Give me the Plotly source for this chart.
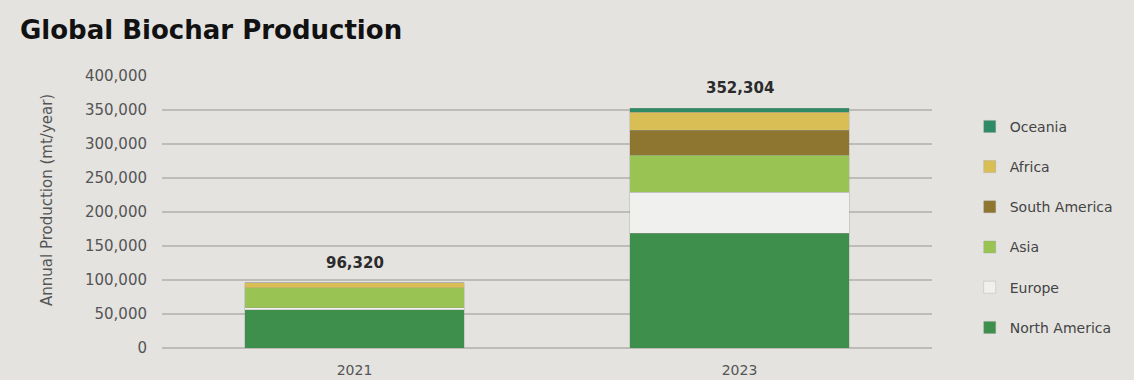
import plotly.graph_objects as go

years = ["2021", "2023"]
totals = [96320, 352304]

# Regional production (mt/year), stacked bottom to top
north_america = [56000, 168500]
europe = [3500, 60500]
asia = [29000, 54500]
south_america = [0, 37000]
africa = [7500, 26500]
oceania = [320, 5304]

series = [
    ("North America", north_america, "#3f8f4c"),
    ("Europe", europe, "#f0f1ef"),
    ("Asia", asia, "#99c453"),
    ("South America", south_america, "#8e7630"),
    ("Africa", africa, "#d9bd55"),
    ("Oceania", oceania, "#2f8a66"),
]

y_ticks = [0, 50000, 100000, 150000, 200000, 250000, 300000, 350000, 400000]
y_tick_text = ["0", "50,000", "100,000", "150,000", "200,000", "250,000",
               "300,000", "350,000", "400,000"]

BG = "#e4e3e0"
TEXT = "#555555"
FONT = "'DejaVu Sans', sans-serif"

fig = go.Figure()
n = len(series)
for i, (name, vals, color) in enumerate(series):
    fig.add_trace(go.Bar(
        x=years, y=vals, name=name, legendgroup=name,
        legendrank=n - i,  # top-most segment listed first
        marker=dict(color=color, line=dict(width=0.6, color="rgba(150,150,150,0.5)")),
        hovertemplate="%{x}<br>" + name + ": %{y:,}<extra></extra>",
    ))

# Total labels above each stack (category axis positions are 0, 1, ...)
for idx, tot in enumerate(totals):
    fig.add_annotation(
        x=idx, y=tot, xref="x", yref="y",
        text=f"<b>{tot:,}</b>", showarrow=False,
        yshift=20, yanchor="middle",
        font=dict(family=FONT, size=15, color="#2b2b2b"),
    )

# Y-axis title, placed by hand so it sits a little above the plot's midline
fig.add_annotation(
    x=-0.1494, y=0.544, xref="paper", yref="paper",
    text="Annual Production (mt/year)", textangle=-90, showarrow=False,
    xanchor="center", yanchor="middle",
    font=dict(family=FONT, size=15, color=TEXT),
)

fig.update_layout(
    barmode="stack",
    bargap=0.43,
    width=1134, height=380,
    margin=dict(l=162, r=202, t=76, b=32),
    paper_bgcolor=BG, plot_bgcolor=BG,
    font=dict(family=FONT, size=14, color=TEXT),
    title=dict(
        text="<b>Global Biochar Production</b>",
        x=20 / 1134, xref="container", xanchor="left",
        y=1 - 30 / 380, yref="container", yanchor="middle",
        font=dict(family=FONT, size=26, color="#111111"),
    ),
    legend=dict(
        traceorder="grouped",
        x=1.049, xanchor="left", y=0.872, yanchor="top",
        bgcolor="rgba(0,0,0,0)",
        font=dict(family=FONT, size=14, color="#444444"),
        tracegroupgap=19,
        itemwidth=30,
    ),
    showlegend=True,
)

fig.update_xaxes(
    type="category", categoryorder="array", categoryarray=years,
    range=[-0.5, 1.5], autorange=False,
    showgrid=False, showline=False, ticks="",
    ticklabelstandoff=12, automargin=False,
    tickfont=dict(size=14, color=TEXT),
)
fig.update_yaxes(
    range=[0, 400000], tickvals=y_ticks, ticktext=y_tick_text,
    showgrid=True, gridcolor="#bdbcb9", gridwidth=1.5,
    zeroline=True, zerolinecolor="#bdbcb9", zerolinewidth=1.5,
    ticks="", ticklabelstandoff=14, automargin=False,
    tickfont=dict(size=15, color=TEXT),
)

fig.write_html("out.html")
